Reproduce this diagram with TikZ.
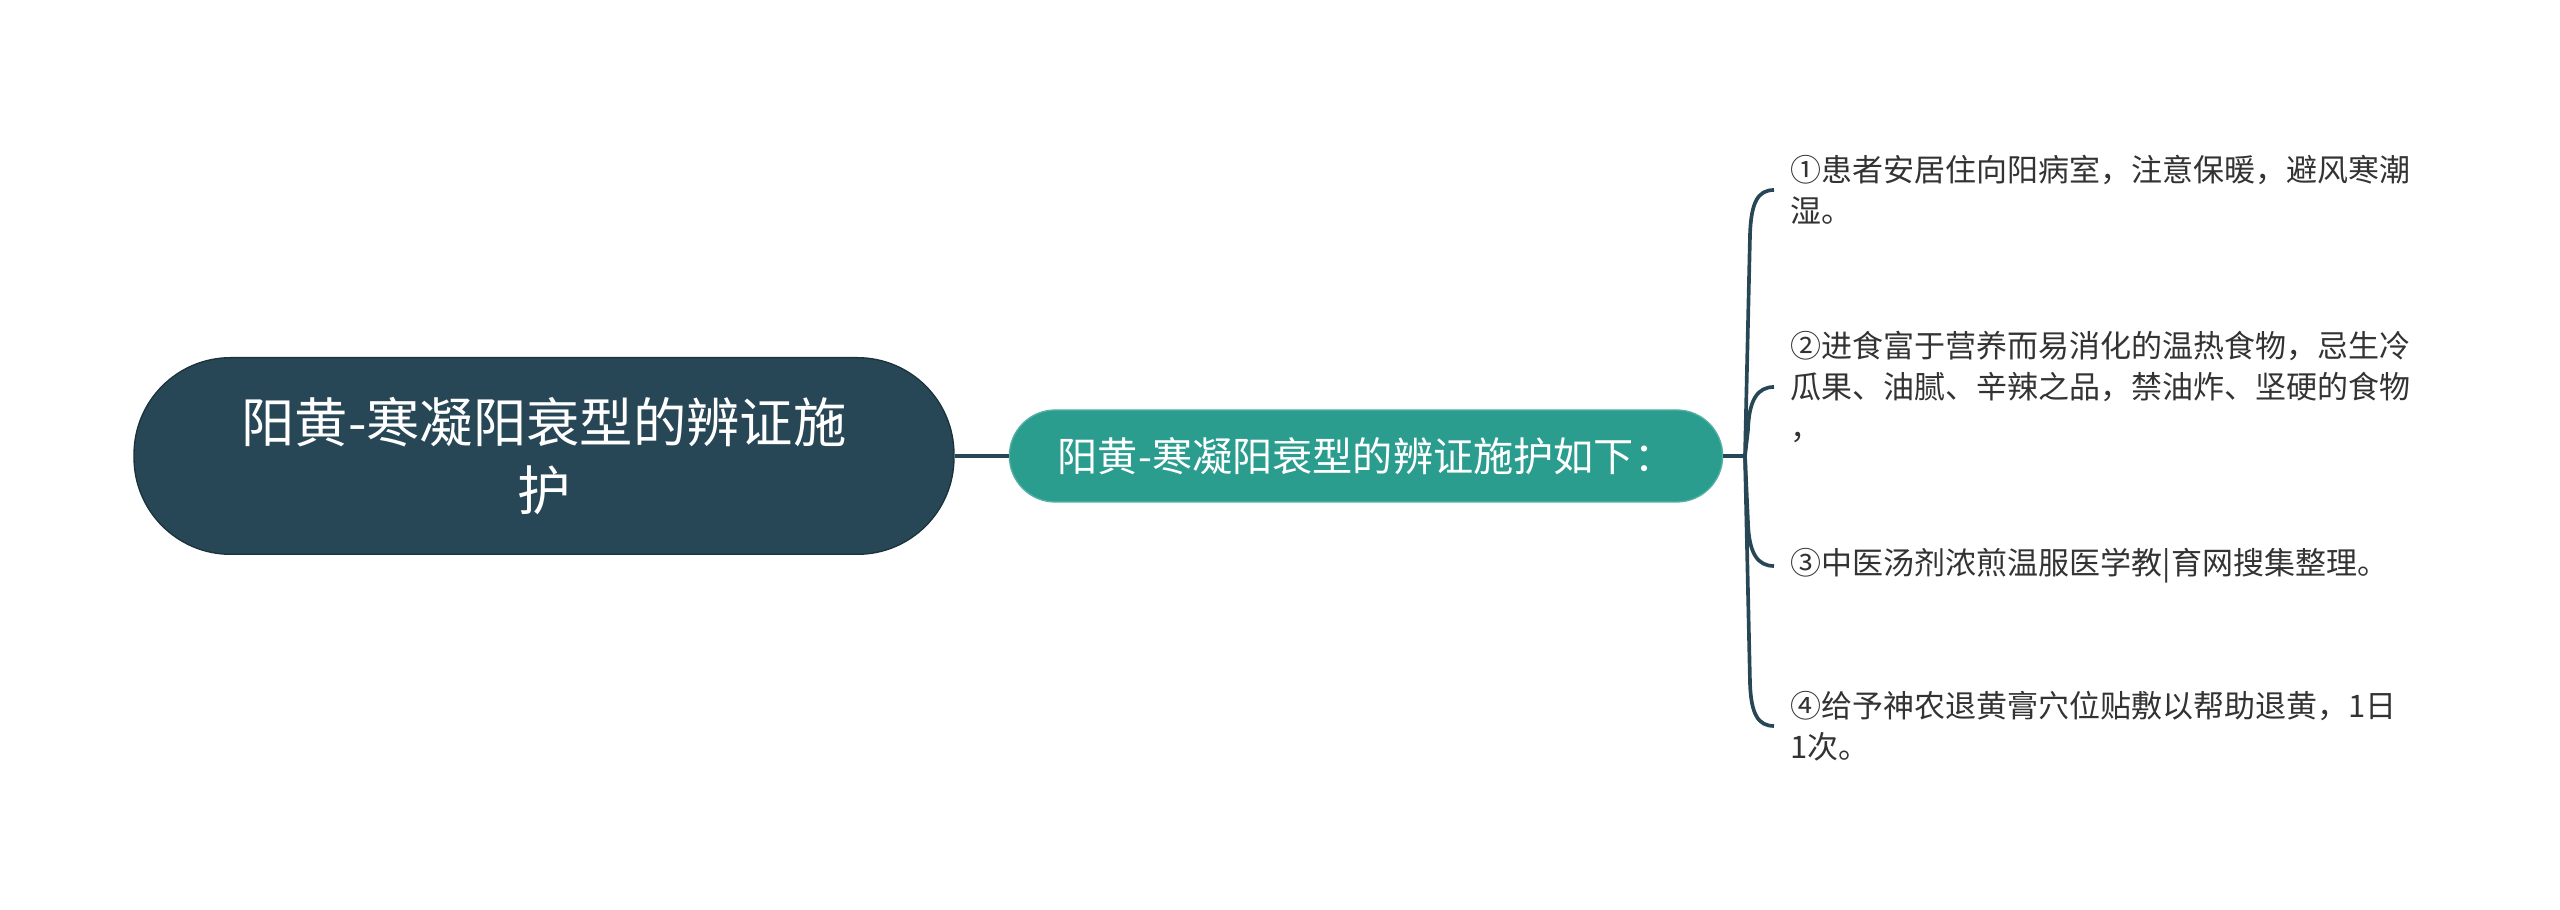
\documentclass[tikz,border=0pt]{standalone}
\usepackage{fontspec}
\setmainfont{Noto Sans CJK SC}
\usetikzlibrary{calc}
\definecolor{rootfill}{HTML}{284756}
\definecolor{childfill}{HTML}{2A9D8F}
\definecolor{linec}{HTML}{284756}
\definecolor{leaftext}{HTML}{333333}
\begin{document}
\begin{tikzpicture}[x=0.3pt,y=-0.3pt,
  rootbox/.style={fill=rootfill, draw=rootfill!70!black, line width=0.4pt, rounded corners=29pt,
    minimum width=246pt, minimum height=59pt, inner sep=0pt, text=white, align=center,
    font=\fontsize{16}{20.4}\selectfont},
  childbox/.style={fill=childfill, draw=childfill!80!white, line width=0.4pt, rounded corners=13.8pt,
    minimum width=214pt, minimum height=27.6pt, inner sep=0pt, text=white,
    font=\fontsize{12.05}{15}\selectfont},
  leaf/.style={anchor=west, inner xsep=4.8pt, inner ysep=0pt, align=left, text=leaftext,
    font=\fontsize{9.3}{12.3}\selectfont},
  conn/.style={draw=linec, line width=1.1pt}]
\useasboundingbox (0,0) rectangle (2560,910);
\node[rootbox] (root) at (544,456) {阳黄-寒凝阳衰型的辨证施\\护};
\node[childbox] (child) at (1366,456) {阳黄-寒凝阳衰型的辨证施护如下：};
\coordinate (J) at (1745,456);
\node[leaf] (l1) at (1774,190) {①患者安居住向阳病室，注意保暖，避风寒潮\\湿。};
\node[leaf] (l2) at (1774,387) {②进食富于营养而易消化的温热食物，忌生冷\\瓜果、油腻、辛辣之品，禁油炸、坚硬的食物\\，};
\node[leaf] (l3) at (1774,566) {③中医汤剂浓煎温服医学教|育网搜集整理。};
\node[leaf] (l4) at (1774,726) {④给予神农退黄膏穴位贴敷以帮助退黄，1日\\1次。};
\draw[conn] (root.east) -- (child.west);
\draw[conn] (child.east) -- (J);
\draw[conn] (J) -- (1750,235) .. controls (1751,202) and (1758,190) .. (l1.west);
\draw[conn] (J) -- (1748,430) .. controls (1749,399) and (1758,387) .. (l2.west);
\draw[conn] (J) -- (1748,523) .. controls (1749,554) and (1758,566) .. (l3.west);
\draw[conn] (J) -- (1750,683) .. controls (1751,714) and (1758,726) .. (l4.west);
\end{tikzpicture}
\end{document}
